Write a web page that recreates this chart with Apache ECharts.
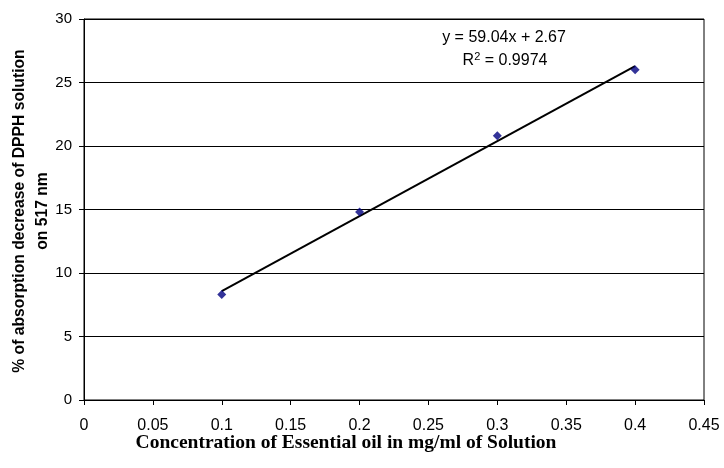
<!DOCTYPE html>
<html><head><meta charset="utf-8">
<script src="https://cdn.jsdelivr.net/npm/echarts@6/dist/echarts.min.js"></script>
<style>html,body{margin:0;padding:0;background:#fff}#c{width:724px;height:468px}</style>
</head><body><div id="c"></div>
<script>
const concentrations = [0.1, 0.2, 0.3, 0.4];
const absorptionDecrease = [8.3, 14.8, 20.8, 26.0];
const trendSlope = 59.04;
const trendIntercept = 2.67;
const rSquared = 0.9974;
const xTicks = [0, 0.05, 0.1, 0.15, 0.2, 0.25, 0.3, 0.35, 0.4, 0.45];
const yTicks = [0, 5, 10, 15, 20, 25, 30];

const scatterData = concentrations.map((x, i) => [x, absorptionDecrease[i]]);
const xs = [Math.min(...concentrations), Math.max(...concentrations)];
const trendData = xs.map(x => [x, trendSlope * x + trendIntercept]);

const chart = echarts.init(document.getElementById('c'), null, {renderer: 'canvas'});
const font = 'Liberation Sans, Arial, sans-serif';
chart.setOption({
  animation: false,
  backgroundColor: '#fff',
  grid: {left: 84, right: 20, top: 19, bottom: 68, show: true, borderColor: '#000', borderWidth: 1},
  xAxis: {
    type: 'value', min: xTicks[0], max: xTicks[xTicks.length - 1], interval: 0.05,
    axisLine: {show: true, lineStyle: {color: '#000', width: 1}},
    axisTick: {show: true, length: 5, lineStyle: {color: '#000'}},
    axisLabel: {color: '#000', fontFamily: font, fontSize: 16, margin: 18,
      formatter: v => String(parseFloat(v.toFixed(2)))},
    splitLine: {show: false}
  },
  yAxis: {
    type: 'value', min: yTicks[0], max: yTicks[yTicks.length - 1], interval: 5,
    axisLine: {show: true, lineStyle: {color: '#000', width: 1}},
    axisTick: {show: true, length: 5, lineStyle: {color: '#000'}},
    axisLabel: {color: '#000', fontFamily: font, fontSize: 15, margin: 12},
    splitLine: {show: true, lineStyle: {color: '#000', width: 1}}
  },
  series: [
    {type: 'line', data: trendData, symbol: 'none', lineStyle: {color: '#000', width: 2}, z: 2},
    {type: 'scatter', data: scatterData, symbol: 'diamond', symbolSize: 9,
      itemStyle: {color: '#000080'}, z: 3}
  ],
  graphic: [
    {type: 'text', x: 504, y: 38, style: {text: 'y = ' + trendSlope.toFixed(2) + 'x + ' + trendIntercept.toFixed(2),
      fill: '#000', font: '16px ' + font, textAlign: 'center', textVerticalAlign: 'middle'}},
    {type: 'text', x: 505, y: 61, style: {
      text: '{a|R}{s|2}{a| = ' + rSquared.toFixed(4) + '}',
      textAlign: 'center', textVerticalAlign: 'middle',
      rich: {a: {fontFamily: font, fontSize: 16, color: '#000'},
             s: {fontFamily: font, fontSize: 11, color: '#000', verticalAlign: 'top', padding: [0,0,8,0]}}}},
    {type: 'text', x: 31, y: 211, rotation: Math.PI / 2, style: {
      text: '% of absorption decrease of DPPH solution\non 517 nm',
      fill: '#000', font: 'bold 15.7px ' + font, textAlign: 'center', textVerticalAlign: 'middle', lineHeight: 23}},
    {type: 'text', x: 346, y: 443, style: {
      text: 'Concentration of Essential oil in mg/ml of Solution',
      fill: '#000', font: 'bold 19.5px Liberation Serif, Times New Roman, serif', textAlign: 'center', textVerticalAlign: 'middle'}}
  ]
});
</script></body></html>
